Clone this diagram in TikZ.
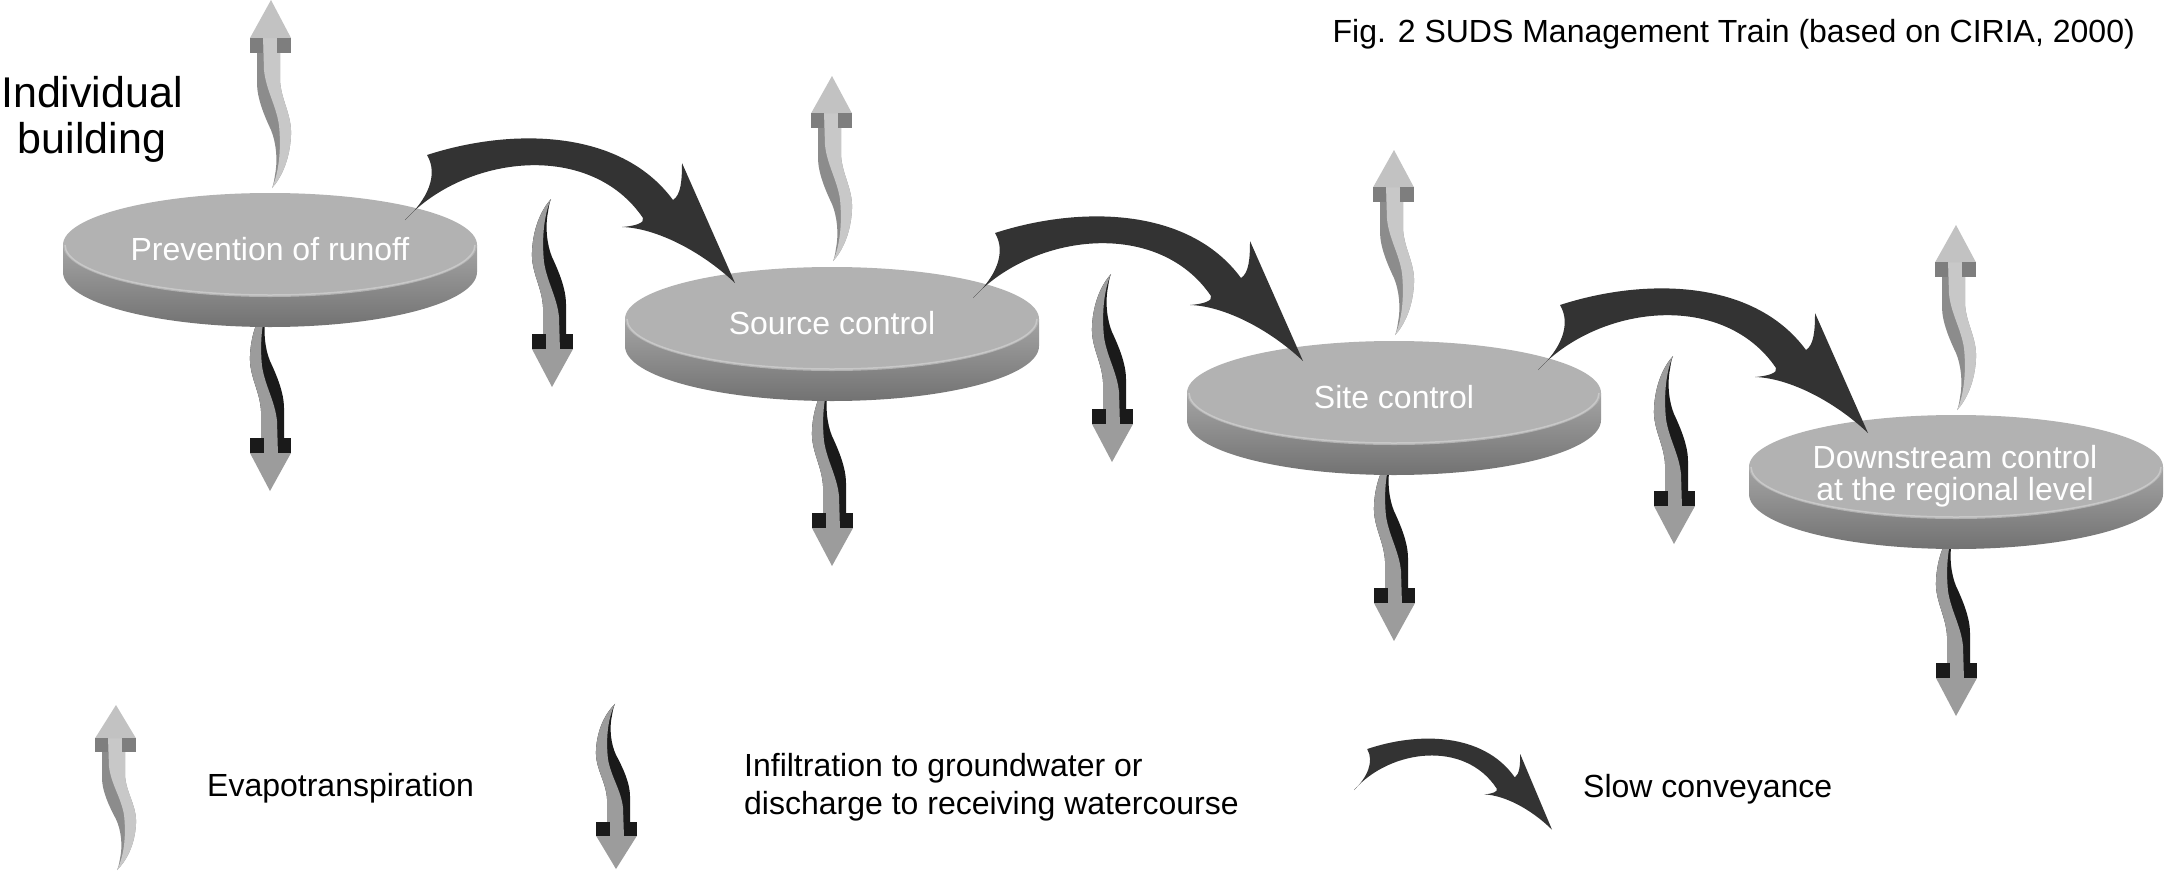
\documentclass[tikz,border=0pt]{standalone}
\usepackage{fontspec}
\setmainfont{Liberation Sans}
\definecolor{face}{HTML}{B2B2B2}
\definecolor{rimA}{HTML}{A4A4A4}
\definecolor{rimB}{HTML}{727272}
\definecolor{rimhl}{HTML}{C8C8C8}
\definecolor{evhead}{HTML}{C2C2C2}
\definecolor{evlight}{HTML}{C8C8C8}
\definecolor{evdark}{HTML}{8C8C8C}
\definecolor{evbar}{HTML}{7E7E7E}
\definecolor{inlight}{HTML}{9C9C9C}
\definecolor{indark}{HTML}{1A1A1A}
\definecolor{convcol}{HTML}{333333}
% wavy arrow: #1 tip position, #2 yscale, #3 rotation, #4 head, #5 light side, #6 dark side, #7 bars
\newcommand\wavy[7]{%
 \begin{scope}[shift={#1}, yscale=#2, rotate=#3]
  \fill[#6] (-14,36) -- (-14,83) .. controls (-14,98) and (-7,115) .. (0,130)
     .. controls (5,142) and (7,160) .. (4,175) .. controls (3,182) and (2,186) .. (1,188)
     .. controls (10,178) and (19,160) .. (20,135) .. controls (21,115) and (10,100) .. (9,80)
     -- (9,36) -- cycle;
  \fill[#5] (-8,36) -- (-7,70) .. controls (-5,90) and (5,105) .. (8,125)
     .. controls (10,145) and (9,170) .. (1,188)
     .. controls (10,178) and (19,160) .. (20,135) .. controls (21,115) and (10,100) .. (9,80)
     -- (9,36) -- cycle;
  \fill[#4] (0,0) -- (20,38) -- (-21,38) -- cycle;
  \fill[#7] (-21,38) rectangle (-8,53);
  \fill[#7] (6,38) rectangle (20,53);
 \end{scope}}
% disk at a named coordinate
\newcommand\diskshape[1]{%
 \begin{scope}[shift={(#1)}]
  \shade[top color=rimA, bottom color=rimB] (-207,0) -- (-207,27)
     arc[start angle=180, end angle=0, x radius=207, y radius=55] -- (207,0) -- cycle;
  \fill[face] (0,0) ellipse [x radius=207, y radius=52];
  \draw[rimhl, line width=1.5pt] (-205,0) arc[start angle=180, end angle=0, x radius=205, y radius=50];
  \fill[face] (0,-2) ellipse [x radius=203, y radius=49];
 \end{scope}}
% curved conveyance arrow: #1 tail position, #2 extra transform
\newcommand\convarrow[2]{%
 \begin{scope}[shift={#1}, #2]
  \fill[convcol] (0,0) .. controls (60,-65) and (185,-80) .. (238,-2)
     .. controls (240,3) and (230,6) .. (217,7)
     .. controls (250,8) and (295,30) .. (330,63)
     -- (277,-57)
     .. controls (277,-40) and (276,-25) .. (268,-20)
     .. controls (215,-92) and (105,-92) .. (22,-65)
     .. controls (34,-45) and (22,-20) .. (0,0) -- cycle;
 \end{scope}}
\begin{document}
\begin{tikzpicture}[x=1pt, y=-1pt,
  txt/.style={font=\fontsize{32}{38}\selectfont, inner sep=0pt},
  big/.style={font=\fontsize{43}{50}\selectfont, inner sep=0pt}]
\useasboundingbox (0,0) rectangle (2164,871);
\fill[white] (0,0) rectangle (2164,871);
\coordinate (c1) at (270,245);
\coordinate (c2) at (832,319);
\coordinate (c3) at (1394,393);
\coordinate (c4) at (1956,467);
% evapotranspiration arrows
\wavy{(271,0)}{1}{0}{evhead}{evlight}{evdark}{evbar}
\wavy{(832,76)}{0.985}{0}{evhead}{evlight}{evdark}{evbar}
\wavy{(1394,150)}{0.985}{0}{evhead}{evlight}{evdark}{evbar}
\wavy{(1956,225)}{0.985}{0}{evhead}{evlight}{evdark}{evbar}
% infiltration arrows between disks
\wavy{(552,387)}{1}{180}{inlight}{inlight}{indark}{indark}
\wavy{(1112,462)}{1}{180}{inlight}{inlight}{indark}{indark}
\wavy{(1674,544)}{1}{180}{inlight}{inlight}{indark}{indark}
% infiltration arrows below disks
\wavy{(270,491)}{1}{180}{inlight}{inlight}{indark}{indark}
\wavy{(832,566)}{1}{180}{inlight}{inlight}{indark}{indark}
\wavy{(1394,641)}{1}{180}{inlight}{inlight}{indark}{indark}
\wavy{(1956,716)}{1}{180}{inlight}{inlight}{indark}{indark}
% disks
\diskshape{c1}
\diskshape{c2}
\diskshape{c3}
\diskshape{c4}
\node[txt, white, anchor=base] (t1) at (270,260) {Prevention of runoff};
\node[txt, white, anchor=base] (t2) at (832,334) {Source control};
\node[txt, white, anchor=base] (t3) at (1394,408) {Site control};
\node[txt, white, anchor=base] (t4a) at (1955,468) {Downstream control};
\node[txt, white, anchor=base] (t4b) at (1955,500) {at the regional level};
% conveyance arrows
\convarrow{(405,220)}{}
\convarrow{(973,298)}{}
\convarrow{(1538,370)}{}
% labels
\node[big, anchor=base] (ib1) at (92,107) {Individual};
\node[big, anchor=base] (ib2) at (92,153) {building};
\node[txt, anchor=base east] (title) at (2135,42) {Fig. 2 SUDS Management Train (based on CIRIA, 2000)};
% legend
\wavy{(116,705)}{0.878}{0}{evhead}{evlight}{evdark}{evbar}
\node[txt, anchor=base west] (l1) at (207,796) {Evapotranspiration};
\wavy{(616,869)}{0.878}{180}{inlight}{inlight}{indark}{indark}
\node[txt, anchor=base west] (l2a) at (744,776) {Infiltration to groundwater or};
\node[txt, anchor=base west] (l2b) at (744,814) {discharge to receiving watercourse};
\convarrow{(1354,790)}{xscale=0.6, yscale=0.63}
\node[txt, anchor=base west] (l3) at (1583,797) {Slow conveyance};
\end{tikzpicture}
\end{document}
